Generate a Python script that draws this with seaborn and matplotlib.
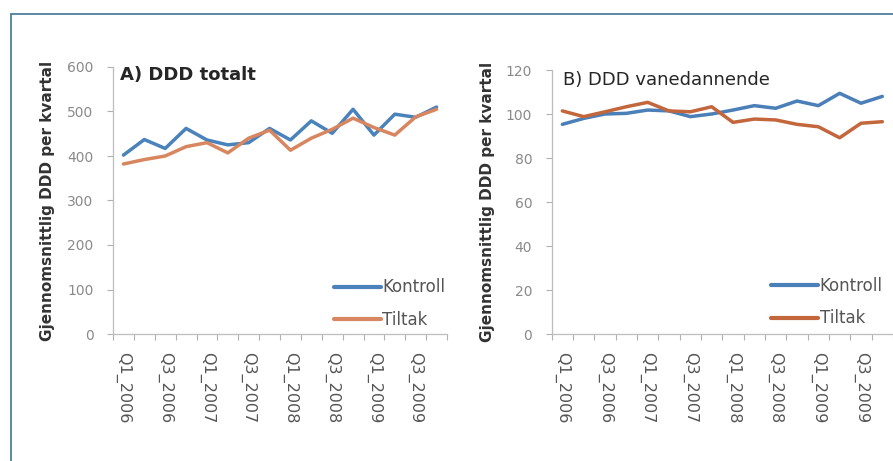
import numpy as np
import pandas as pd
import matplotlib
matplotlib.use("Agg")
import matplotlib.pyplot as plt
import seaborn as sns
from matplotlib.lines import Line2D

# ---------------- data ----------------
quarters = ["Q1_2006", "Q2_2006", "Q3_2006", "Q4_2006",
            "Q1_2007", "Q2_2007", "Q3_2007", "Q4_2007",
            "Q1_2008", "Q2_2008", "Q3_2008", "Q4_2008",
            "Q1_2009", "Q2_2009", "Q3_2009", "Q4_2009"]
groups = ["Kontroll", "Tiltak"]

total_kontroll = [402, 437, 417, 462, 436, 425, 430, 462, 436, 479, 451, 505, 447, 494, 487, 510]
total_tiltak = [382, 392, 400, 421, 430, 407, 440, 458, 413, 440, 460, 485, 464, 447, 488, 505]

vane_kontroll = [95.3, 98.0, 100.0, 100.3, 101.8, 101.4, 98.8, 100.0, 101.8, 103.8, 102.6, 105.9, 103.8, 109.4, 104.9, 108.0]
vane_tiltak = [101.4, 98.8, 101.0, 103.3, 105.3, 101.4, 101.0, 103.3, 96.2, 97.7, 97.3, 95.3, 94.2, 89.2, 95.8, 96.5]

yticks_total = [0, 100, 200, 300, 400, 500, 600]
yticks_vane = [0, 20, 40, 60, 80, 100, 120]
ylabel = "Gjennomsnittlig DDD per kvartal"

# ---------------- style ----------------
sns.set_theme(style="white")
plt.rcParams["font.family"] = ["DejaVu Sans"]

W, H = 893, 461
fig = plt.figure(figsize=(W / 100, H / 100), dpi=100)
fig.patch.set_facecolor("white")

# frame lines
fig.add_artist(Line2D([11 / W, 1.0], [1 - 14 / H, 1 - 14 / H], transform=fig.transFigure,
                      color="#4f7f9b", lw=1.3))
fig.add_artist(Line2D([11 / W, 11 / W], [0, 1 - 14 / H], transform=fig.transFigure,
                      color="#4f7f9b", lw=1.3))

axA = fig.add_axes([113 / W, (H - 334) / H, 334 / W, 267 / H])
axB = fig.add_axes([551.7 / W, (H - 334) / H, 341.3 / W, 264 / H])


def panel(ax, kon, til, yticks, title, title_weight, title_xy, colors, xmax, leg_anchor, ylabel_x):
    pos = list(range(len(quarters)))
    df = pd.DataFrame({
        "pos": pos + pos,
        "DDD": kon + til,
        "Gruppe": [groups[0]] * len(kon) + [groups[1]] * len(til),
    })
    sns.lineplot(data=df, x="pos", y="DDD", hue="Gruppe", palette=colors,
                 linewidth=2.5, ax=ax, sort=False, legend=False)
    ax.set_xlim(-0.5, xmax)
    ax.set_ylim(yticks[0], yticks[-1])
    ax.set_yticks(yticks)
    ax.set_yticklabels([str(t) for t in yticks])
    # x ticks: marks at category boundaries, labels every second quarter
    ax.set_xticks(np.arange(-0.5, len(quarters), 1.0))
    ax.set_xticklabels([])
    ax.set_xticks(pos[::2], labels=quarters[::2], minor=True)
    ax.tick_params(axis="x", which="major", length=4, width=0.8, color="#b0b0b0",
                   direction="out", bottom=True)
    ax.tick_params(axis="x", which="minor", length=0, pad=13, labelsize=11.5,
                   labelcolor="#555555", labelrotation=-90)
    ax.tick_params(axis="y", length=4, width=0.8, color="#b0b0b0", direction="out",
                   left=True, pad=10, labelsize=10, labelcolor="#8a8a8a")
    for s in ["top", "right"]:
        ax.spines[s].set_visible(False)
    for s in ["left", "bottom"]:
        ax.spines[s].set_color("#bdbdbd")
        ax.spines[s].set_linewidth(0.9)
    ax.set_xlabel("")
    ax.set_ylabel(ylabel, fontsize=11, fontweight="bold", color="#333333")
    ax.yaxis.set_label_coords(ylabel_x, 0.5)
    ax.text(title_xy[0], title_xy[1], title, transform=ax.transAxes, fontsize=13,
            fontweight=title_weight, color="#262626", va="center", ha="left")
    handles = [Line2D([], [], color=colors[g], lw=3) for g in groups]
    ax.legend(handles, groups, loc="lower right", bbox_to_anchor=leg_anchor,
              frameon=False, fontsize=12, handlelength=2.8, handletextpad=0.1,
              labelspacing=0.85, borderpad=0, borderaxespad=0, labelcolor="#555555")


panel(axA, total_kontroll, total_tiltak, yticks_total, "A) DDD totalt", "bold", (0.021, 0.97),
      {"Kontroll": "#4a82bb", "Tiltak": "#d7865f"}, 14.4, (0.995, 0.02), -0.175)
panel(axB, vane_kontroll, vane_tiltak, yticks_vane, "B) DDD vanedannende", "normal", (0.033, 0.962),
      {"Kontroll": "#4a7fb8", "Tiltak": "#c4663c"}, 15.0, (0.97, 0.025), -0.165)

fig.savefig("out.png", dpi=100, facecolor="white")
